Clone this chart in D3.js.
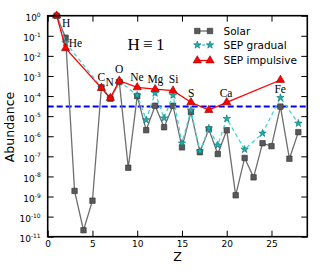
<!DOCTYPE html>
<html><head><meta charset="utf-8">
<script src="https://cdn.jsdelivr.net/npm/d3@7"></script>
<style>body{margin:0;background:#fff}svg{display:block}</style>
</head><body><svg id="c" width="320" height="275"></svg>
<script>
// ---- data ----
const elements = ["H","He","Li","Be","B","C","N","O","F","Ne","Na","Mg","Al","Si","P","S","Cl","Ar","K","Ca","Sc","Ti","V","Cr","Mn","Fe","Co","Ni"];
const solarZ = [1,2,3,4,5,6,7,8,9,10,11,12,13,14,15,16,17,18,19,20,21,22,23,24,25,26,27,28];
const solar = [1, 0.08, 1.9e-9, 2.1e-11, 6.2e-10, 2.7e-4, 7.4e-5, 5e-4, 2.7e-8, 1e-4, 2e-6, 3.3e-5, 2.8e-6, 3.3e-5, 2.8e-7, 1.6e-5, 1.6e-7, 2.2e-6, 1.3e-7, 2e-6, 1.15e-9, 8.3e-8, 9e-9, 4.5e-7, 3.2e-7, 3e-5, 7.6e-8, 1.6e-6];
const gradualZ = [1,2,6,7,8,10,11,12,13,14,15,16,17,18,19,20,22,24,26,28];
const gradual = [1, 0.045, 2.7e-4, 7.5e-5, 5.5e-4, 1.1e-4, 6.5e-6, 1.4e-4, 8e-6, 1.1e-4, 4.5e-7, 2e-5, 1.8e-7, 2.5e-6, 3.6e-7, 7.5e-6, 2.2e-7, 1.4e-6, 8.3e-5, 4.4e-6];
const impulsiveZ = [1,2,6,7,8,10,12,14,16,18,20,26];
const impulsive = [1, 0.024, 2.5e-4, 8e-5, 5.8e-4, 2.7e-4, 2.2e-4, 1.85e-4, 4.9e-5, 2e-5, 4.9e-5, 6.3e-4];
const threshold = 3e-5;
const labelNames = ["H","He","C","N","O","Ne","Mg","Si","S","Ca","Fe"];
const labelZ = [2.05, 3.09, 5.98, 6.93, 7.99, 9.98, 12.03, 14.07, 16.02, 19.93, 25.97];
const labelExp = [-0.56, -1.56, -3.24, -3.48, -2.87, -3.24, -3.33, -3.33, -4.03, -4.03, -3.86];
const xTicks = [0,5,10,15,20,25];
const yTickExps = [0,-1,-2,-3,-4,-5,-6,-7,-8,-9,-10,-11];
const seriesNames = ["Solar","SEP gradual","SEP impulsive"];

// ---- layout ----
const svg = d3.select("#c");
const L = 47.7, R = 307.3, T = 15.7, B = 236.7;
const x = d3.scaleLinear().domain([0,29]).range([L,R]);
const y = d3.scaleLog().domain([1e-11,1]).range([B,T]);

const sans = "DejaVu Sans, sans-serif";
const serif = "Liberation Serif, DejaVu Serif, serif";

// threshold line
svg.append("line").attr("x1",L).attr("x2",R).attr("y1",y(threshold)).attr("y2",y(threshold))
  .attr("stroke","#0000ff").attr("stroke-width",2).attr("stroke-dasharray","6,3");

const line = d3.line().x(d=>x(d[0])).y(d=>y(d[1]));
const sq = d3.symbol().type(d3.symbolSquare).size(30);
const star = d3.symbol().type(d3.symbolStar).size(17);
const tri = d3.symbol().type(d3.symbolTriangle).size(30);

const styles = [
  {line:"#6e6e6e", dash:null, fill:"#595959", stroke:"#333", sym:sq},
  {line:"#45d4d4", dash:"4,3", fill:"#20b2aa", stroke:"#0a6e6e", sym:star},
  {line:"#ff0000", dash:null, fill:"#ff0000", stroke:"#8b0000", sym:tri}
];
const series = [
  d3.zip(solarZ, solar),
  d3.zip(gradualZ, gradual),
  d3.zip(impulsiveZ, impulsive)
];
series.forEach((pts,i)=>{
  const s = styles[i];
  svg.append("path").attr("d",line(pts)).attr("fill","none").attr("stroke",s.line)
    .attr("stroke-width",1.3).attr("stroke-dasharray",s.dash);
  svg.append("g").selectAll("path").data(pts).join("path")
    .attr("d",s.sym()).attr("transform",d=>`translate(${x(d[0])},${y(d[1])})`)
    .attr("fill",s.fill).attr("stroke",s.stroke).attr("stroke-width",0.6);
});

// element labels
svg.append("g").selectAll("text").data(labelNames).join("text")
  .attr("x",(d,i)=>x(labelZ[i])).attr("y",(d,i)=>y(Math.pow(10,labelExp[i])))
  .attr("text-anchor","middle").attr("font-family",serif).attr("font-size",11.5)
  .text(d=>d);

svg.append("text").attr("x",146).attr("y",50).attr("text-anchor","middle")
  .attr("font-family",serif).attr("font-size",17).text("H\u2009\u2261\u20091");

// axes
const ax = svg.append("g").attr("font-family",sans);
const gBottom = ax.append("g").attr("transform",`translate(0,${B})`)
  .call(d3.axisBottom(x).tickValues(xTicks).tickSize(-6).tickPadding(4));
const gTop = ax.append("g").attr("transform",`translate(0,${T})`)
  .call(d3.axisTop(x).tickValues(xTicks).tickSize(-6).tickFormat(""));
const yVals = yTickExps.map(e=>Math.pow(10,e));
const gLeft = ax.append("g").attr("transform",`translate(${L},0)`)
  .call(d3.axisLeft(y).tickValues(yVals).tickSize(-6).tickPadding(7).tickFormat(""));
const gRight = ax.append("g").attr("transform",`translate(${R},0)`)
  .call(d3.axisRight(y).tickValues(yVals).tickSize(-6).tickFormat(""));
[gBottom,gTop,gLeft,gRight].forEach(g=>{
  g.select(".domain").remove();
  g.selectAll(".tick line").attr("stroke","#000").attr("stroke-width",1);
});
gBottom.selectAll(".tick text").attr("font-size",9).attr("fill","#000").attr("font-family",sans);
gLeft.selectAll(".tick text").each(function(d){
  const e = Math.round(Math.log10(d));
  const t = d3.select(this).attr("font-size",9).attr("fill","#000").attr("font-family",sans)
    .attr("dy",null).attr("y",5);
  t.append("tspan").text("10");
  t.append("tspan").attr("font-size",6).attr("dy",-4.5).text(String(e));
});

svg.append("rect").attr("x",L).attr("y",T).attr("width",R-L).attr("height",B-T)
  .attr("fill","none").attr("stroke","#000").attr("stroke-width",1.6);

svg.append("text").attr("transform",`translate(14,127) rotate(-90)`).attr("text-anchor","middle")
  .attr("font-family",sans).attr("font-size",12.5).text("Abundance");
svg.append("text").attr("x",(L+R)/2).attr("y",261).attr("text-anchor","middle")
  .attr("font-family",sans).attr("font-size",12.5).text("Z");

// legend
const legY = [31,45,60.5];
seriesNames.forEach((n,i)=>{
  const s = styles[i];
  const g = svg.append("g");
  g.append("line").attr("x1",197.3).attr("x2",210).attr("y1",legY[i]).attr("y2",legY[i])
    .attr("stroke",s.line).attr("stroke-width",1.3).attr("stroke-dasharray",s.dash ? "3,2" : null);
  [197.3,210].forEach(px=>g.append("path").attr("d",s.sym()).attr("transform",`translate(${px},${legY[i]})`)
    .attr("fill",s.fill).attr("stroke",s.stroke).attr("stroke-width",0.6));
  g.append("text").attr("x",223.5).attr("y",legY[i]+3.8).attr("font-family",sans)
    .attr("font-size",10.5).text(n);
});
</script></body></html>
